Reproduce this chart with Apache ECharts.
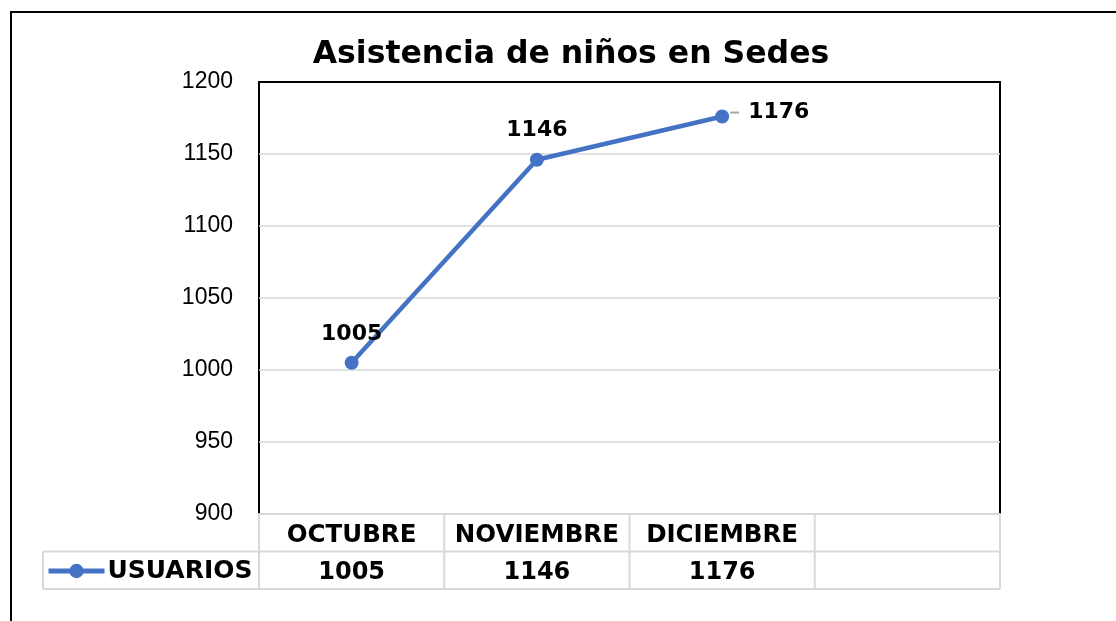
<!DOCTYPE html>
<html><head><meta charset="utf-8">
<script src="https://cdn.jsdelivr.net/npm/echarts@6/dist/echarts.min.js"></script>
<style>html,body{margin:0;padding:0;background:#fff}#c{width:1116px;height:621px}</style>
</head><body><div id="c"></div>
<script>
const categories = ['OCTUBRE', 'NOVIEMBRE', 'DICIEMBRE', ''];
const usuarios = [1005, 1146, 1176];
const seriesName = 'USUARIOS';
const yMin = 900, yMax = 1200, yStep = 50;
const chartTitle = 'Asistencia de niños en Sedes';

const tableValues = categories.map((c, i) => i < usuarios.length ? String(usuarios[i]) : '');
const G = {left: 259, top: 82, width: 741, height: 432};
const rowH = 37.5;
const legendLeft = 43;
const colW = G.width / categories.length;
const grey = '#d9d9d9';
const boldFont = 'DejaVu Sans';

const graphics = [];
graphics.push({type: 'rect', shape: {x: 11, y: 12, width: 1200, height: 800}, style: {fill: null, stroke: '#000', lineWidth: 2}, z: 0});
const yb = G.top + G.height;
function hline(x1, x2, y) { graphics.push({type: 'line', shape: {x1, y1: y, x2, y2: y}, style: {stroke: grey, lineWidth: 2}, z: 10}); }
function vline(x, y1, y2) { graphics.push({type: 'line', shape: {x1: x, y1, x2: x, y2}, style: {stroke: grey, lineWidth: 2}, z: 10}); }
hline(legendLeft, G.left + G.width, yb + rowH);
hline(legendLeft, G.left + G.width, yb + 2 * rowH);
vline(legendLeft, yb + rowH, yb + 2 * rowH);
for (let i = 0; i <= categories.length; i++) {
  vline(G.left + i * colW, yb, yb + 2 * rowH);
}

const labelFont = {fontFamily: boldFont, fontWeight: 'bold', fontSize: 22, color: '#000'};

const chart = echarts.init(document.getElementById('c'));
chart.setOption({
  animation: false,
  backgroundColor: '#fff',
  title: {
    text: chartTitle, left: 566, top: 34, textAlign: 'center',
    textStyle: {fontFamily: boldFont, fontWeight: 'bold', fontSize: 31.5, color: '#000'}
  },
  legend: {
    data: [{name: seriesName}], left: 46, top: yb + rowH + 7, padding: 0,
    itemWidth: 56, itemHeight: 18, itemGap: 4,
    lineStyle: {width: 5},
    textStyle: {fontFamily: boldFont, fontWeight: 'bold', fontSize: 25, color: '#000', padding: [0, 0, 0, -2]}
  },
  grid: {left: G.left, top: G.top, width: G.width, height: G.height, show: true, borderColor: '#000', borderWidth: 2, backgroundColor: 'transparent'},
  xAxis: [{
    type: 'category', data: categories, boundaryGap: true,
    axisLine: {show: true, lineStyle: {color: grey, width: 2}},
    axisTick: {show: false},
    axisLabel: {margin: 9, interval: 0, fontFamily: boldFont, fontWeight: 'bold', fontSize: 24.5, color: '#000'}
  }, {
    type: 'category', data: tableValues, position: 'bottom', offset: rowH,
    axisLine: {show: false}, axisTick: {show: false},
    axisLabel: {margin: 9, interval: 0, fontFamily: boldFont, fontWeight: 'bold', fontSize: 24, color: '#000'}
  }],
  yAxis: {
    type: 'value', min: yMin, max: yMax, interval: yStep,
    axisLine: {show: false}, axisTick: {show: false},
    splitLine: {showMinLine: false, showMaxLine: false, lineStyle: {color: grey, width: 1.5}},
    axisLabel: {margin: 26, fontFamily: 'Liberation Sans', fontSize: 23, color: '#000', formatter: v => String(v)}
  },
  series: [{
    name: seriesName, type: 'line',
    data: usuarios.map((v, i) => i === usuarios.length - 1 ? {
      value: v,
      label: {
        position: 'right', distance: 1, offset: [0, -4],
        formatter: '{l|}{g|}{v|{c}}',
        rich: {
          l: {width: 9, height: 2, backgroundColor: '#a6a6a6', verticalAlign: 'middle'},
          g: {width: 9},
          v: labelFont
        }
      }
    } : v),
    symbol: 'circle', symbolSize: 14,
    lineStyle: {color: '#4472C4', width: 4.5},
    itemStyle: {color: '#4472C4'},
    label: Object.assign({show: true, position: 'top', distance: 11}, labelFont),
    z: 5
  }],
  graphic: graphics
});
</script></body></html>
